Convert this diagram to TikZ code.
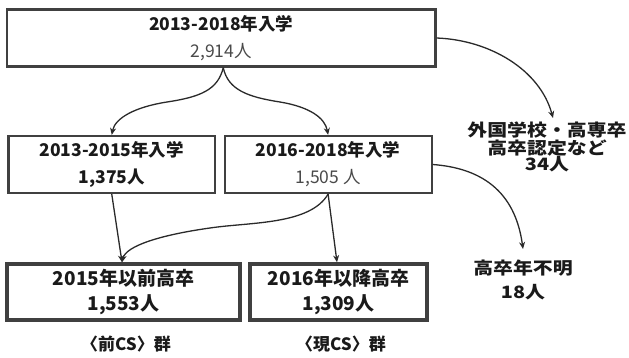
\documentclass[tikz,border=0pt]{standalone}
\usepackage{fontspec}
\usepackage{graphicx}
\setmainfont{Noto Sans CJK JP}
\usetikzlibrary{arrows.meta}
\definecolor{boxc}{HTML}{404040}
\definecolor{linec}{HTML}{2A2A2A}
\definecolor{txtc}{HTML}{1A1A1A}
\definecolor{txtg}{HTML}{4A4A4A}
\newcommand{\wide}[1]{\scalebox{1.17}[1]{#1}}
\begin{document}
\begin{tikzpicture}[x=1pt,y=-1pt,
  box/.style={draw=boxc, line width=2.2pt, inner sep=0pt, align=center,
    text=txtc, font=\fontsize{17.5}{27}\selectfont},
  thickbox/.style={box, line width=3.5pt, font=\fontsize{19}{25}\selectfont},
  conn/.style={draw=linec, line width=1.3pt, -{Stealth[length=7pt,width=6pt]}},
  lbl/.style={align=center, text=txtc, inner sep=0pt},
  sidelbl/.style={lbl, font=\bfseries\fontsize{17}{16}\selectfont},
  grouplbl/.style={lbl, font=\bfseries\fontsize{17}{18}\selectfont}]
\useasboundingbox (0,0) rectangle (629,358);

\node[box, minimum width=428.5pt, minimum height=57pt] (top) at (221.25,38)
  {\textbf{2013-2018年入学}\\{\color{txtg}2,914人}};
\node[box, minimum width=206.5pt, minimum height=57pt] (mL) at (111.75,164.5)
  {\textbf{2013-2015年入学}\\\textbf{1,375人}};
\node[box, minimum width=207pt, minimum height=57pt] (mR) at (328.1,164.5)
  {\textbf{2016-2018年入学}\\{\color{txtg}1,505 人}};
\node[thickbox, minimum width=233pt, minimum height=56pt] (bL) at (123.5,292)
  {\textbf{2015年以前高卒}\\\textbf{1,553人}};
\node[thickbox, minimum width=177pt, minimum height=56pt] (bR) at (338.5,292)
  {\textbf{2016年以降高卒}\\\textbf{1,309人}};

\node[sidelbl] (ext) at (547,147)
  {\wide{外国学校・高専卒}\\\wide{高卒認定など}\\\wide{34人}};
\node[lbl, font=\bfseries\fontsize{17}{24}\selectfont] (unk) at (523,280)
  {\wide{高卒年不明}\\\wide{18人}};

\node[grouplbl] (gL) at (126,344) {〈前CS〉群};
\node[grouplbl] (gR) at (341,344) {〈現CS〉群};

\coordinate (split) at ([xshift=2pt]top.south);
\coordinate (extTip) at (553,118);
\coordinate (unkTip) at (523,249);

\draw[conn] (split) .. controls (218,90) and (200,97) .. (167,102)
  .. controls (135,107) and (115,118) .. (mL.north);
\draw[conn] (split) .. controls (228,90) and (248,97) .. (280,102)
  .. controls (310,107) and (325,118) .. (mR.north);
\draw[conn] (top.east) .. controls (490,40) and (540,70) .. (extTip);
\draw[conn] (mR.east) .. controls (480,168) and (515,190) .. (unkTip);

\draw[conn] (mL.south) -- ([xshift=-1.5pt]bL.north);
\draw[conn] (mR.south) .. controls (310,225) and (250,222) .. (210,228)
  .. controls (160,235) and (126,246) .. ([xshift=-1.5pt]bL.north);
\draw[conn] (mR.south) -- ([xshift=-1.5pt]bR.north);
\end{tikzpicture}
\end{document}
